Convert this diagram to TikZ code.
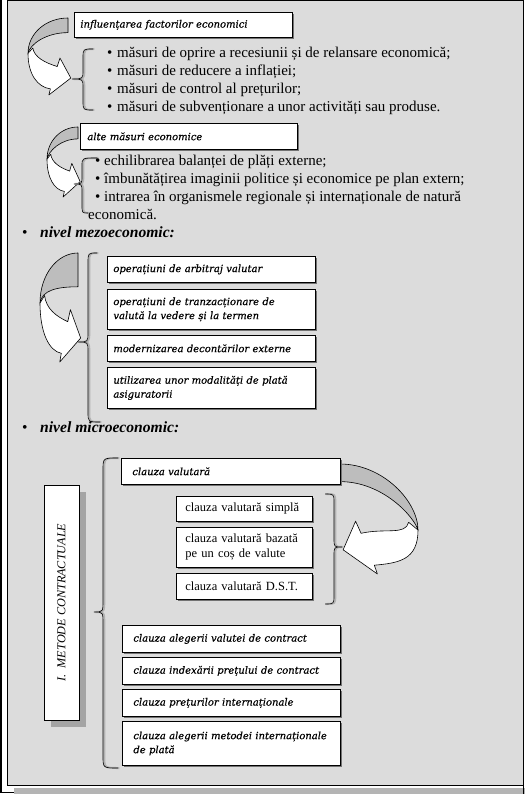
\documentclass[tikz,border=0pt]{standalone}
\usepackage{fontspec}
\usepackage{graphicx}
\setmainfont{Liberation Serif}
\newfontfamily\boxfont{DejaVu Serif}[ItalicFeatures={FakeBold=0.6}]
\usetikzlibrary{shadows}

\definecolor{pagegray}{HTML}{DCDCDC}
\definecolor{bandgray}{HTML}{B4B4B4}
\definecolor{crescentgray}{HTML}{BDBDBD}
\definecolor{shadowgray}{HTML}{A4A4A4}

\tikzset{
  bodytext/.style={anchor=base west, inner sep=0pt, font=\fontsize{15}{18}\selectfont},
  leveltext/.style={anchor=base west, inner sep=0pt, font=\fontsize{15.6}{18}\selectfont\bfseries\itshape},
  boxshadow/.style={drop shadow={shadow xshift=2pt, shadow yshift=-2pt, fill=black!55, opacity=1}},
  itbox/.style={draw=black, line width=0.8pt, fill=white, anchor=north west, align=left,
    inner ysep=0pt, boxshadow, font=\boxfont\itshape\fontsize{10}{14}\selectfont},
  plainbox/.style={draw=black, line width=0.8pt, fill=white, anchor=north west, align=left,
    inner ysep=0pt, boxshadow, font=\fontsize{12.5}{15}\selectfont},
  bracegray/.style={draw=black!30, line width=2pt, xshift=1.3pt},
  braceline/.style={draw=black, line width=0.6pt},
  arrowline/.style={draw=black, line width=0.6pt, line join=round},
  pics/curvarrow/.style args={#1/#2/#3}{code={
    \filldraw[arrowline, fill=crescentgray] (0,0) .. controls (-0.55,0) and (-1,{#2-0.26}) .. (-1,#2)
      .. controls (-0.95,{#2-0.12}) and (-0.55,#3) .. (0,#3) -- cycle;
    \filldraw[arrowline, fill=white] (-1,#2) .. controls (-1,{#2+0.27}) and (-0.76,0.9) .. (-0.44,0.92)
      -- (-0.48,1) -- (#1,0.78) -- (-0.2,0.52) -- (-0.27,0.63)
      .. controls (-0.58,0.58) and (-0.84,{#2+0.05}) .. (-0.88,{#2-0.07}) -- cycle;
  }},
}
\newcommand\mybrace[1]{\draw[bracegray] #1; \draw[braceline] #1;}

\begin{document}
\begin{tikzpicture}[x=1pt,y=-1pt]
\useasboundingbox (0,0) rectangle (525,794);
% frame
\fill[white] (0,0) rectangle (525,794);
\fill[bandgray] (14,788) rectangle (525,794);
\fill[pagegray] (7.5,0.75) rectangle (523.5,785.25);
\draw[line width=1.5pt] (7.5,0.75) rectangle (523.5,785.25);
\draw[line width=1.5pt] (523.5,785) -- (523.5,794);
\draw[line width=1.6pt] (0.8,0) -- (0.8,792.5) -- (14,792.5);

% ---------- section 1
\pic[xscale=40, yscale=77] at (68,18) {curvarrow={0.07/0.46/0.19}};
\node[itbox, text width=206pt, inner xsep=6pt, minimum height=25pt] (inf) at (74,12) {\mbox{influențarea factorilor economici}};
\mybrace{(93,49) .. controls (83,49) .. (83,58) -- (83,70) .. controls (83,79) .. (72,79) .. controls (83,79) .. (83,88) -- (83,101) .. controls (83,110) .. (93,110)}
\node[bodytext] (m1) at (107,58) {\makebox[10pt][l]{•}măsuri de oprire a recesiunii și de relansare economică;};
\node[bodytext] (m2) at (107,76) {\makebox[10pt][l]{•}măsuri de reducere a inflației;};
\node[bodytext] (m3) at (107,94) {\makebox[10pt][l]{•}măsuri de control al prețurilor;};
\node[bodytext] (m4) at (107,112) {\makebox[10pt][l]{•}măsuri de subvenționare a unor activități sau produse.};

% ---------- section 2
\pic[xscale=31, yscale=70] at (78,127) {curvarrow={0.07/0.46/0.17}};
\node[itbox, text width=203pt, inner xsep=7pt, minimum height=26pt] (alte) at (80,123) {\mbox{alte măsuri economice}};
\mybrace{(97,158) .. controls (82,158) .. (82,166) -- (82,176) .. controls (82,184) .. (74,184) .. controls (82,184) .. (82,192) -- (82,205) .. controls (82,213) .. (88,213)}
\node[bodytext] (e1) at (95,166) {• echilibrarea balanței de plăți externe;};
\node[bodytext] (e2) at (95,184) {• îmbunătățirea imaginii politice și economice pe plan extern;};
\node[bodytext] (e3) at (95,202) {• intrarea în organismele regionale și internaționale de natură};
\node[bodytext] (e4) at (88,219) {economică.};

% ---------- mezo
\node[leveltext] (mezo) at (22,237) {\makebox[18pt][l]{\normalfont•}nivel mezoeconomic:};
\pic[xscale=38, yscale=109] at (78,253) {curvarrow={0.07/0.46/0.31}};
\mybrace{(97,253) .. controls (88,253) .. (88,263) -- (88,332) .. controls (88,342) .. (78,342) .. controls (88,342) .. (88,352) -- (88,412) .. controls (88,422) .. (100,422)}
\node[itbox, text width=196pt, inner xsep=6pt, minimum height=26pt] (z1) at (107,256) {\mbox{operațiuni de arbitraj valutar}};
\node[itbox, text width=196pt, inner xsep=6pt, minimum height=40pt] (z2) at (107,289) {\mbox{operațiuni de tranzacționare de}\\\mbox{valută la vedere și la termen}};
\node[itbox, text width=196pt, inner xsep=6pt, minimum height=26pt] (z3) at (107,335) {\mbox{modernizarea decontărilor externe}};
\node[itbox, text width=196pt, inner xsep=6pt, minimum height=41pt] (z4) at (107,367) {\mbox{utilizarea unor modalități de plată}\\\mbox{asiguratorii}};

% ---------- micro
\node[leveltext] (micro) at (22,432) {\makebox[18pt][l]{\normalfont•}nivel microeconomic:};
\node[draw=black, line width=0.8pt, fill=white, minimum width=35pt, minimum height=235pt, inner sep=0pt,
  drop shadow={shadow xshift=7pt, shadow yshift=-7pt, fill=shadowgray, opacity=1}] (met) at (61.5,602.5)
  {\rotatebox{90}{\fontsize{12.2}{14}\selectfont\itshape I.\ \ METODE CONTRACTUALE}};
\mybrace{(118,458) .. controls (103,458) .. (103,470) -- (103,600) .. controls (103,612) .. (94,612) .. controls (103,612) .. (103,624) -- (103,756) .. controls (103,768) .. (118,768)}
\pic[xscale=-78, yscale=110] at (340,464) {curvarrow={-0.04/0.6/0.16}};
\node[itbox, text width=197pt, inner xsep=11pt, minimum height=26pt] (cv) at (121,458) {\mbox{clauza valutară}};
\node[plainbox, text width=118pt, inner xsep=9pt, minimum height=25pt] (s1) at (176,496) {\mbox{clauza valutară simplă}};
\node[plainbox, text width=118pt, inner xsep=9pt, minimum height=40pt] (s2) at (176,527) {\mbox{clauza valutară bazată}\\\mbox{pe un coș de valute}};
\node[plainbox, text width=118pt, inner xsep=9pt, minimum height=26pt] (s3) at (176,573) {\mbox{clauza valutară D.S.T.}};
\mybrace{(325,494) .. controls (334,494) .. (334,503) -- (334,538) .. controls (334,547) .. (342,547) .. controls (334,547) .. (334,556) -- (334,595) .. controls (334,604) .. (325,604)}
\node[itbox, text width=196pt, inner xsep=11pt, minimum height=27pt] (c1) at (122,625) {\mbox{clauza alegerii valutei de contract}};
\node[itbox, text width=196pt, inner xsep=11pt, minimum height=27pt] (c2) at (122,657) {\mbox{clauza indexării prețului de contract}};
\node[itbox, text width=196pt, inner xsep=11pt, minimum height=27pt] (c3) at (122,689) {\mbox{clauza prețurilor internaționale}};
\node[itbox, text width=196pt, inner xsep=11pt, minimum height=44pt] (c4) at (122,721) {\mbox{clauza alegerii metodei internaționale}\\\mbox{de plată}};
\end{tikzpicture}
\end{document}
